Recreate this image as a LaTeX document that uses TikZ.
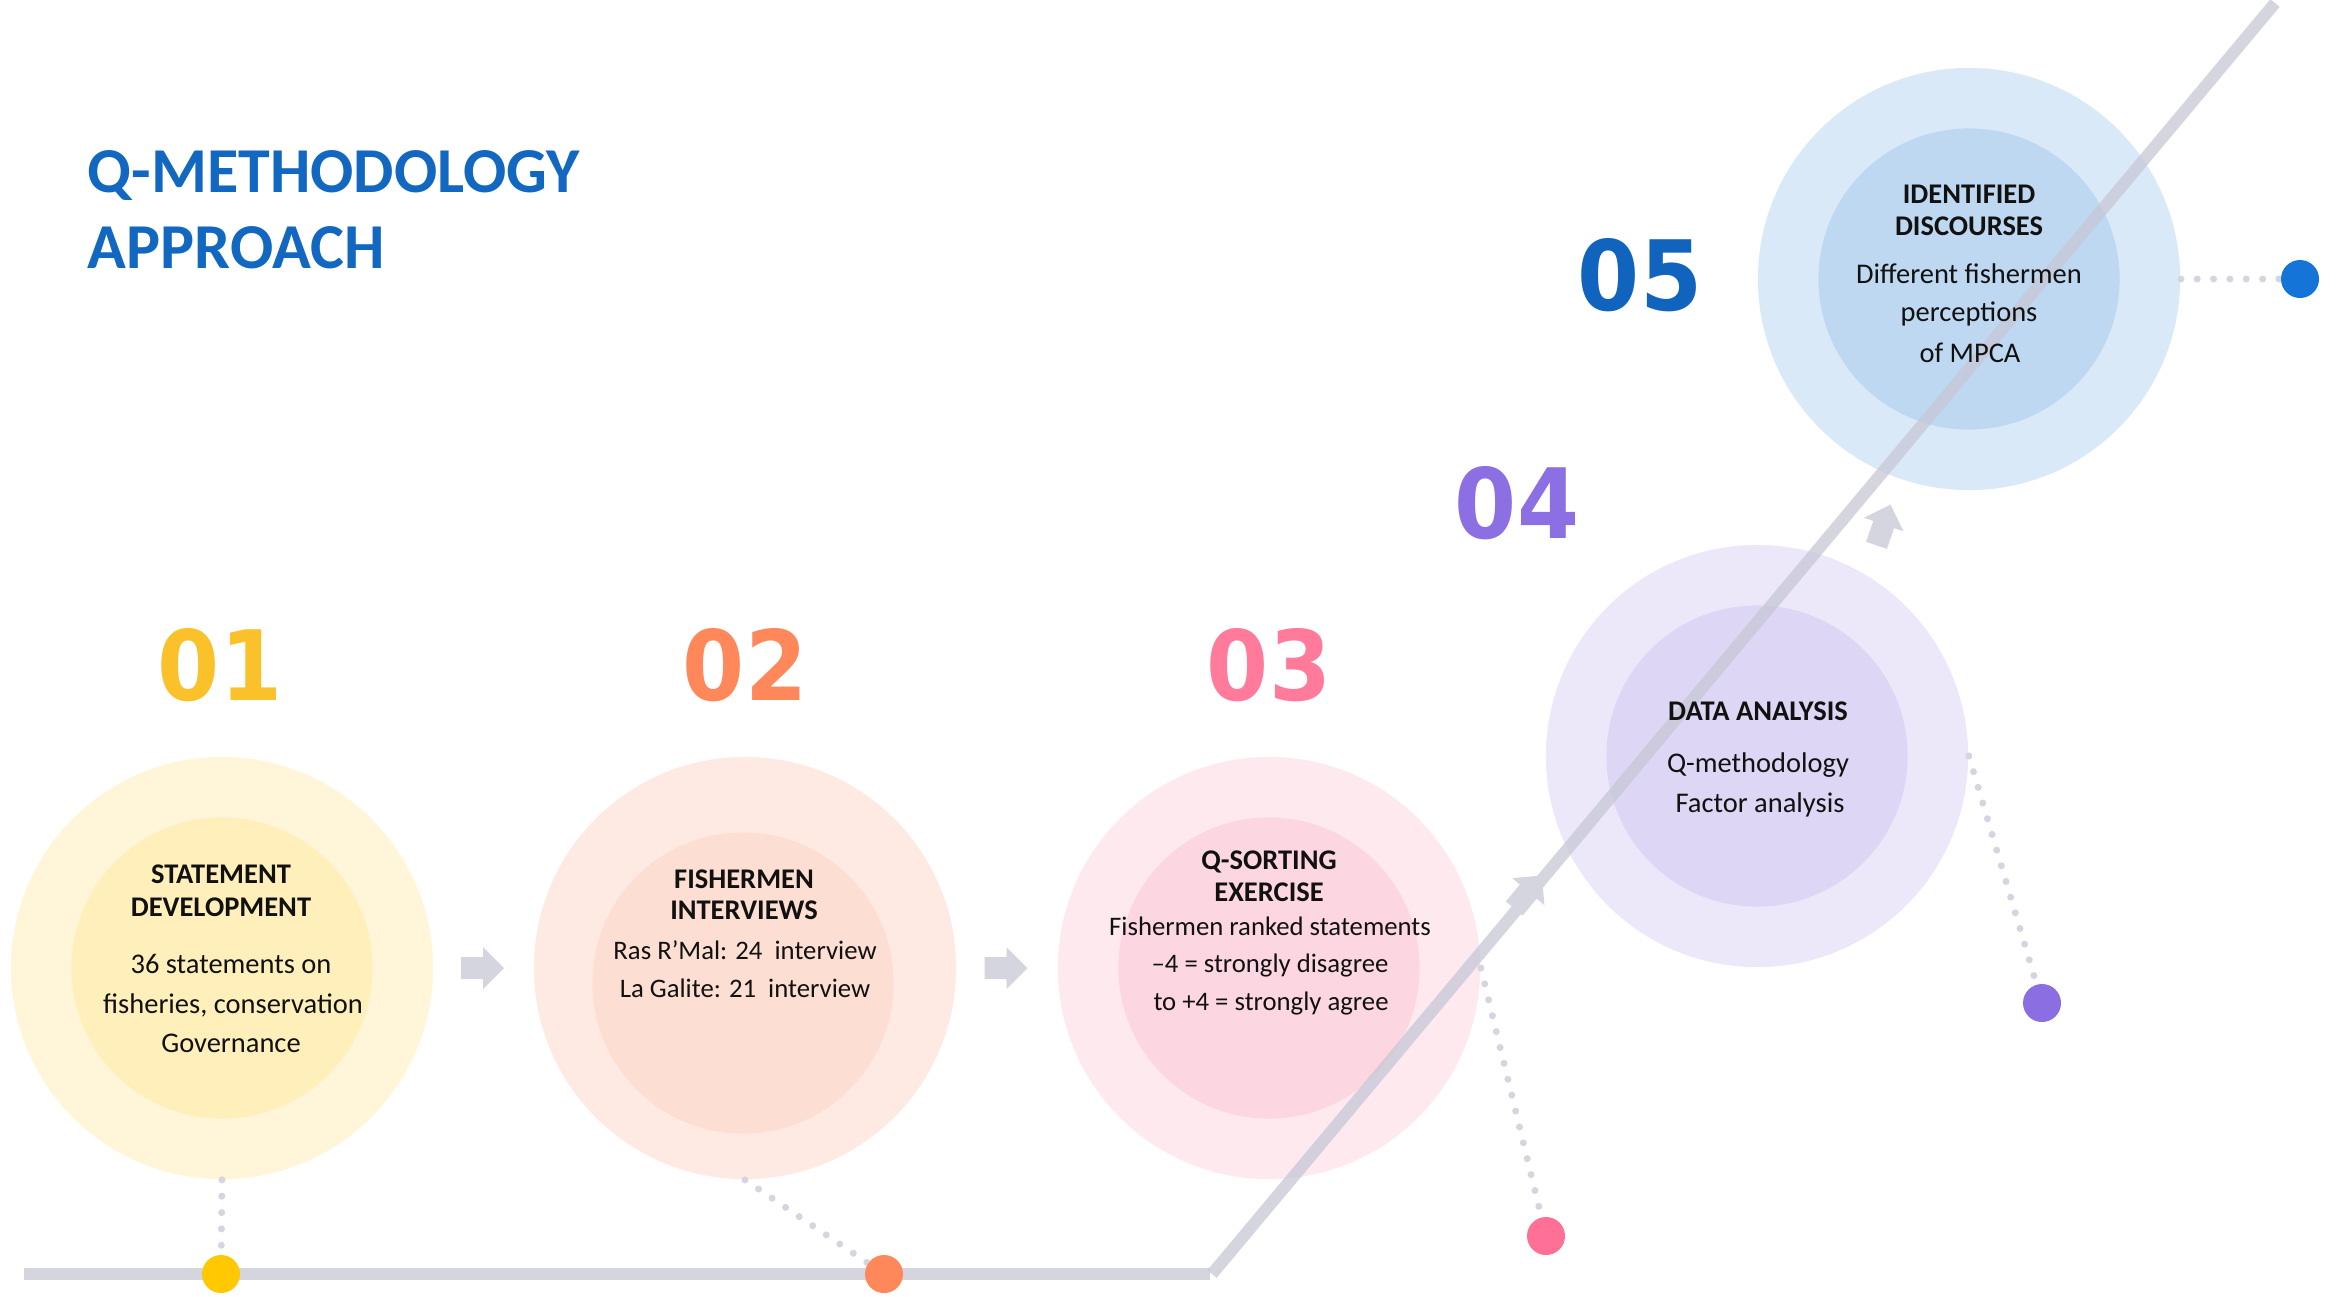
\documentclass[tikz,border=0pt]{standalone}
\usepackage{fontspec}
\setmainfont{Carlito}
\newfontfamily\numfont{DejaVu Sans}
\definecolor{titleblue}{RGB}{18,103,192}
\definecolor{nA}{RGB}{251,193,42}
\definecolor{nB}{RGB}{255,136,90}
\definecolor{nC}{RGB}{255,122,155}
\definecolor{nD}{RGB}{139,111,227}
\definecolor{nE}{RGB}{16,100,190}
\definecolor{dA}{RGB}{255,200,0}
\definecolor{dB}{RGB}{255,136,90}
\definecolor{dC}{RGB}{255,112,150}
\definecolor{dD}{RGB}{140,110,227}
\definecolor{dE}{RGB}{20,116,215}
\definecolor{lgray}{RGB}{213,213,224}
\definecolor{lgrayT}{RGB}{199,199,214}
\definecolor{oA}{RGB}{255,245,216}
\definecolor{iA}{RGB}{255,239,187}
\definecolor{oB}{RGB}{254,234,227}
\definecolor{iB}{RGB}{253,222,210}
\definecolor{oC}{RGB}{253,233,238}
\definecolor{iC}{RGB}{252,215,225}
\definecolor{oD}{RGB}{236,232,250}
\definecolor{iD}{RGB}{221,214,245}
\definecolor{oE}{RGB}{218,233,248}
\definecolor{iE}{RGB}{190,216,241}
\definecolor{txt}{RGB}{17,17,17}
\tikzset{
  outerc/.style={circle, inner sep=0pt, minimum size=4.22cm},
  innerc/.style={circle, inner sep=0pt, minimum size=3.01cm},
  dotc/.style={circle, inner sep=0pt, minimum size=0.38cm},
  hdr/.style={anchor=base, inner sep=0pt, text=txt, font=\fontsize{8.1}{9}\selectfont\bfseries},
  bdy/.style={anchor=base, inner sep=0pt, text=txt, font=\fontsize{8.1}{9}\selectfont},
  bdys/.style={anchor=base, inner sep=0pt, text=txt, font=\fontsize{7.6}{9}\selectfont},
  num/.style={anchor=base, inner sep=0pt, font=\numfont\fontsize{27.6}{30}\selectfont\bfseries},
  ttl/.style={anchor=base west, inner sep=0pt, text=titleblue, font=\fontsize{18.2}{20}\selectfont\bfseries},
  dotline/.style={lgray, line width=2pt, line cap=round, dash pattern=on 0pt off 4.65pt},
  track/.style={lgrayT, opacity=0.75, line width=0.12cm},
}
\newcommand{\blockarrow}[3]{%
  \fill[lgray, shift={(#1,#2)}, rotate=#3] (-21.5,-11) -- (0.5,-11) -- (0.5,-21) -- (21.5,0) -- (0.5,21) -- (0.5,11) -- (-21.5,11) -- cycle;}
\begin{document}
\begin{tikzpicture}[x=0.01cm, y=-0.01cm]
\useasboundingbox (0,0) rectangle (2343,1296);
% title
\node[ttl] (t1) at (87,192) {Q-METHODOLOGY};
\node[ttl] (t2) at (87,268) {APPROACH};
% circles
\node[outerc, fill=oA] (c1o) at (222,968) {};
\node[innerc, fill=iA] (c1i) at (222,968) {};
\node[outerc, fill=oB] (c2o) at (745,968) {};
\node[innerc, fill=iB] (c2i) at (743,983) {};
\node[outerc, fill=oC] (c3o) at (1269,968) {};
\node[innerc, fill=iC] (c3i) at (1269,968) {};
\node[outerc, fill=oD] (c4o) at (1757,756) {};
\node[innerc, fill=iD] (c4i) at (1757,756) {};
\node[outerc, fill=oE] (c5o) at (1969,279) {};
\node[innerc, fill=iE] (c5i) at (1969,279) {};
% track
\coordinate (tA) at (24,1274);
\coordinate (tB) at (1210,1274);
\coordinate (tC) at (1212,1274);
\coordinate (tD) at (2275,3);
\draw[track, line cap=butt] (tA) -- (tB);
\draw[track, line cap=butt] (tC) -- (tD);
% arrows
\blockarrow{482.5}{968}{0}
\blockarrow{1006}{968}{0}
\blockarrow{1528}{892}{50}
\blockarrow{1883.5}{525}{71}
% dot positions
\coordinate (p1) at (221,1274);
\coordinate (p2) at (884,1274);
\coordinate (p3) at (1546,1236);
\coordinate (p4) at (2042,1003);
\coordinate (p5) at (2300,279);
% dotted connectors
\draw[dotline, shorten >=3pt] (c1o.south) -- (p1);
\draw[dotline, shorten >=3pt] (c2o.south) -- (p2);
\draw[dotline, shorten >=3pt] (c3o.east) -- (p3);
\draw[dotline, shorten >=3pt] (c4o.east) -- (p4);
\draw[dotline, shorten >=3pt] (c5o.east) -- (p5);
% dots
\node[dotc, fill=dA] (d1) at (p1) {};
\node[dotc, fill=dB] (d2) at (p2) {};
\node[dotc, fill=dC] (d3) at (p3) {};
\node[dotc, fill=dD] (d4) at (p4) {};
\node[dotc, fill=dE] (d5) at (p5) {};
% numbers
\node[num, text=nA] (n1) at (220,700) {\scalebox{0.92}[1]{01}};
\node[num, text=nB] (n2) at (745,700) {\scalebox{0.92}[1]{02}};
\node[num, text=nC] (n3) at (1269,700) {\scalebox{0.92}[1]{03}};
\node[num, text=nD] (n4) at (1517,538) {\scalebox{0.92}[1]{04}};
\node[num, text=nE] (n5) at (1640,310) {\scalebox{0.92}[1]{05}};
% circle 1 text
\node[hdr] (h1a) at (221,883) {STATEMENT};
\node[hdr] (h1b) at (221,916) {DEVELOPMENT};
\node[bdy] (b1a) at (231,973) {36 statements on};
\node[bdy] (b1b) at (233,1013) {fisheries, conservation};
\node[bdy] (b1c) at (231,1052) {Governance};
% circle 2 text
\node[hdr] (h2a) at (744,888) {FISHERMEN};
\node[hdr] (h2b) at (744,919) {INTERVIEWS};
\node[bdys] (b2a) at (745,959) {Ras R’Mal: 24\ \ interview};
\node[bdys] (b2b) at (745,997) {La Galite: 21\ \ interview};
% circle 3 text
\node[hdr] (h3a) at (1269,869) {Q-SORTING};
\node[hdr] (h3b) at (1269,901) {EXERCISE};
\node[bdys] (b3a) at (1270,935) {Fishermen ranked statements};
\node[bdys] (b3b) at (1270,972) {–4 = strongly disagree};
\node[bdys] (b3c) at (1271,1010) {to +4 = strongly agree};
% circle 4 text
\node[hdr] (h4a) at (1758,720) {DATA ANALYSIS};
\node[bdy] (b4a) at (1758,772) {Q-methodology};
\node[bdy] (b4b) at (1760,812) {Factor analysis};
% circle 5 text
\node[hdr] (h5a) at (1969,203) {IDENTIFIED};
\node[hdr] (h5b) at (1969,235) {DISCOURSES};
\node[bdy] (b5a) at (1969,283) {Different fishermen};
\node[bdy] (b5b) at (1969,321) {perceptions};
\node[bdy] (b5c) at (1970,362) {of MPCA};
\end{tikzpicture}
\end{document}
